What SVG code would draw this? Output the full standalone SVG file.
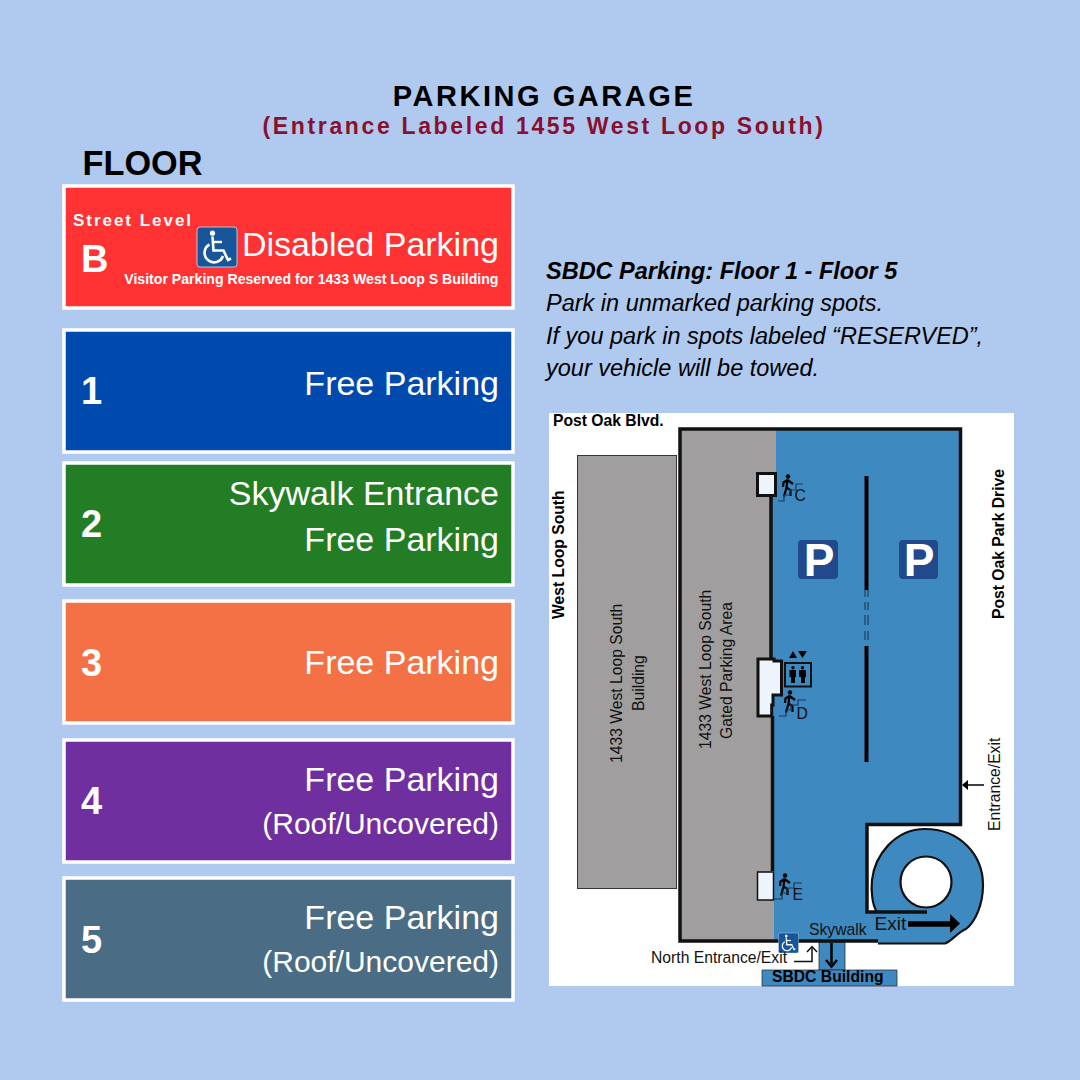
<svg xmlns="http://www.w3.org/2000/svg" width="1080" height="1080" viewBox="0 0 1080 1080">
<defs>
<style>
text{font-family:"Liberation Sans",Arial,sans-serif}
.band{stroke:#fff;stroke-width:3.5}
.big{font-size:34px;fill:#fff;text-anchor:end}
.sm{font-size:30px;fill:#fff;text-anchor:end}
.num{font-size:38px;font-weight:700;fill:#fff}
.ol{fill:none;stroke:#111;stroke-width:3.500}
.m{font-size:15.7px;fill:#111}
.mb{font-size:15.7px;font-weight:700;fill:#000}
.ps{font-size:46px;font-weight:700;fill:#fff;text-anchor:middle}
.it{font-size:23.5px;font-style:italic;fill:#000}
.stair{fill:none;stroke:#1b3a55;stroke-width:1.200}
.door{fill:#eef4fb;stroke:#111}
</style>
<g id="wc">
<rect x="0" y="0" width="40" height="40" rx="3" fill="#17569b" stroke="#cfe0f0" stroke-width=".8"/>
<circle cx="15.500" cy="6.200" r="2.600" fill="#fff"/>
<path d="M15.500 9.500L16.500 23.500H26.500L31 33L34 31.500" fill="none" stroke="#fff" stroke-width="2.600"/>
<path d="M16.200 15H25" fill="none" stroke="#fff" stroke-width="2.400"/>
<path d="M12.500 17.500A9.500 9.500 0 1 0 26 29" fill="none" stroke="#fff" stroke-width="2.600"/>
</g>
<g id="walker">
<circle cx="6.500" cy="2" r="2.200" fill="#000"/>
<path d="M6 5L5 13L2.500 22M5 13L9 15.500V21.500M6 5.500L11.500 9.500M6 5.500L2 8L1.500 12.500" fill="none" stroke="#000" stroke-width="2.200"/>
</g>
</defs>
<rect width="1080" height="1080" fill="#b0c9ee"/>

<g id="heading">
<text x="544" y="106" text-anchor="middle" font-size="29" font-weight="700" letter-spacing="2.550" fill="#000">PARKING GARAGE</text>
<text x="544" y="134" text-anchor="middle" font-size="23" font-weight="700" letter-spacing="2.650" fill="#8a0f2f">(Entrance Labeled 1455 West Loop South)</text>
<text x="82.500" y="175" font-size="34.300" font-weight="700" fill="#000">FLOOR</text>
</g>

<g id="floor-b">
<rect class="band" x="64" y="186" width="449" height="122" fill="#ff3333"/>
<text x="73" y="226" font-size="17" font-weight="700" letter-spacing="1.970" fill="#fff">Street Level</text>
<text x="81" y="272" class="num">B</text>
<use href="#wc" x="197" y="227"/>
<text x="499" y="256" class="big">Disabled Parking</text>
<text x="498.500" y="284" text-anchor="end" font-size="14.120" font-weight="700" fill="#fff">Visitor Parking Reserved for 1433 West Loop S Building</text>
</g>
<g id="floor-1">
<rect class="band" x="64" y="330" width="449" height="122" fill="#004aad"/>
<text x="81" y="404" class="num">1</text>
<text x="499" y="395" class="big">Free Parking</text>
</g>
<g id="floor-2">
<rect class="band" x="64" y="463" width="449" height="122" fill="#237d25"/>
<text x="81" y="537" class="num">2</text>
<text x="499" y="504.500" class="big">Skywalk Entrance</text>
<text x="499" y="551" class="big">Free Parking</text>
</g>
<g id="floor-3">
<rect class="band" x="64" y="601" width="449" height="122" fill="#f47145"/>
<text x="81" y="676" class="num">3</text>
<text x="499" y="674" class="big">Free Parking</text>
</g>
<g id="floor-4">
<rect class="band" x="64" y="740" width="449" height="122" fill="#702f9f"/>
<text x="81" y="814" class="num">4</text>
<text x="499" y="791" class="big">Free Parking</text>
<text x="499" y="834" class="sm">(Roof/Uncovered)</text>
</g>
<g id="floor-5">
<rect class="band" x="64" y="878" width="449" height="122" fill="#4a6d85"/>
<text x="81" y="953" class="num">5</text>
<text x="499" y="929" class="big">Free Parking</text>
<text x="499" y="972" class="sm">(Roof/Uncovered)</text>
</g>

<g id="note">
<text x="546" y="279" class="it" font-weight="700">SBDC Parking: Floor 1 - Floor 5</text>
<text x="546" y="311" class="it">Park in unmarked parking spots.</text>
<text x="546" y="344" class="it">If you park in spots labeled “RESERVED”,</text>
<text x="546" y="376" class="it">your vehicle will be towed.</text>
</g>

<g id="map">
<rect x="549" y="413" width="465" height="573" fill="#fff"/>
<rect id="building-1433" x="577.500" y="455.500" width="99" height="433" fill="#a09e9e" stroke="#333" stroke-width="1"/>
<rect id="gated-area" x="680" y="429" width="96" height="512" fill="#a09e9e"/>
<path id="garage" d="M776 429H960V824H867V941H774V716H772V497H776Z" fill="#3f89c1"/>
<path id="ramp" d="M867 912H877C872 905 871 890 872 880C875 855 895 829 925 829C960 829 983 855 983 885C983 905 975 922 966 929C958 932 952 941 945 943.500H878V941H867Z" fill="#3f89c1"/>
<rect x="819" y="942" width="26" height="28" fill="#3f89c1" stroke="#333" stroke-width=".8"/>
<path d="M762 986V970H897V986Z" fill="#3f89c1" stroke="#333" stroke-width=".8"/>
<path class="ol" d="M776 429H680V941H878"/>
<path class="ol" d="M776 429H960.500V824.500H867V912H927"/>
<path class="ol" d="M771 497V660M772.500 716V871"/>
<path fill="none" stroke="#111" stroke-width="2.200" d="M877 912C872 905 871 890 872 880C875 855 895 829 925 829C960 829 983 855 983 885C983 905 975 922 966 929C958 932 952 941 945 943.500H878"/>
<circle cx="926" cy="882" r="25.500" fill="#fff" stroke="#111" stroke-width="2.200"/>
<path stroke="#000" stroke-width="4" d="M866.500 476V590" fill="none"/>
<path stroke="#000" stroke-width="4" d="M866.500 646V762" fill="none"/>
<path stroke="#1b3a55" stroke-width="1.100" d="M865 590V597M865 602V610M865 615V625M865 631V640M868 590V597M868 602V610M868 615V625M868 631V640" fill="none"/>
<rect class="door" x="757.500" y="473.500" width="18" height="22" stroke-width="3"/>
<path class="door" d="M758 659H774V661H781.500V695H773V705H771.700V716H758Z" stroke-width="3"/>
<rect class="door" x="757.500" y="872" width="16" height="28" stroke-width="1.500"/>
<rect x="798" y="540" width="40" height="39" rx="4" fill="#21498c"/>
<text x="819" y="576" class="ps">P</text>
<rect x="899" y="540" width="39" height="39" rx="4" fill="#21498c"/>
<text x="919" y="576" class="ps">P</text>
<use href="#walker" x="781.500" y="474.500"/>
<path class="stair" d="M778 501H784V495H790V490H796V484H803"/>
<use href="#walker" x="783.500" y="690.500"/>
<path class="stair" d="M779 716H786V710H791V705H798V700H806"/>
<use href="#walker" x="778.500" y="873.500"/>
<path class="stair" d="M774 899H782V893H787V888H794V883H802"/>
<path d="M789 658L793 651L797 658ZM798 651H807L802.500 658Z" fill="#000"/>
<rect x="785" y="663" width="26" height="23.500" fill="none" stroke="#111" stroke-width="2"/>
<path d="M793 666a1.700 1.700 0 1 1-.01 0M789.500 670H796V677H795V683H791V677H789.500ZM802.500 666a1.700 1.700 0 1 1-.01 0M799 670H806V677H805V683H801V677H799Z" fill="#000"/>
<use href="#wc" transform="translate(778.500,933) scale(.5)"/>

<text x="553" y="426" class="mb">Post Oak Blvd.</text>
<text transform="translate(563.500,619) rotate(-90)" class="mb">West Loop South</text>
<text transform="translate(1003.500,619) rotate(-90)" class="mb">Post Oak Park Drive</text>
<text transform="translate(621.500,763) rotate(-90)" class="m">1433 West Loop South</text>
<text transform="translate(643.500,711) rotate(-90)" class="m">Building</text>
<text transform="translate(710.500,749) rotate(-90)" class="m">1433 West Loop South</text>
<text transform="translate(731.500,739) rotate(-90)" class="m">Gated Parking Area</text>
<text transform="translate(999.500,831) rotate(-90)" class="m">Entrance/Exit</text>
<text x="794.500" y="501" class="m">C</text>
<text x="796.500" y="718.500" class="m">D</text>
<text x="792.500" y="900" class="m">E</text>
<text x="809" y="935" class="m">Skywalk</text>
<text x="874.500" y="930" class="m" style="font-size:19px">Exit</text>
<text x="651" y="963" class="m">North Entrance/Exit</text>
<text x="772" y="982" class="mb">SBDC Building</text>
</g>

<g id="connectors">
<path d="M908 924H950" stroke="#000" stroke-width="5.500" fill="none"/>
<path d="M950 914L960 923.500L950 933Z" fill="#000"/>
<path d="M984 785H966" stroke="#000" stroke-width="1.500" fill="none"/>
<path d="M968 780L962 785L968 790Z" fill="#000"/>
<path d="M794 961.500H812V948" stroke="#111" stroke-width="1.500" fill="none"/>
<path d="M807 952L812 946.500L817 952" stroke="#111" stroke-width="1.500" fill="none"/>
<path d="M831.500 943V964" stroke="#000" stroke-width="2.500" fill="none"/>
<path d="M826 960L831.500 966.500L837 960" stroke="#000" stroke-width="2.500" fill="none"/>
</g>
</svg>
